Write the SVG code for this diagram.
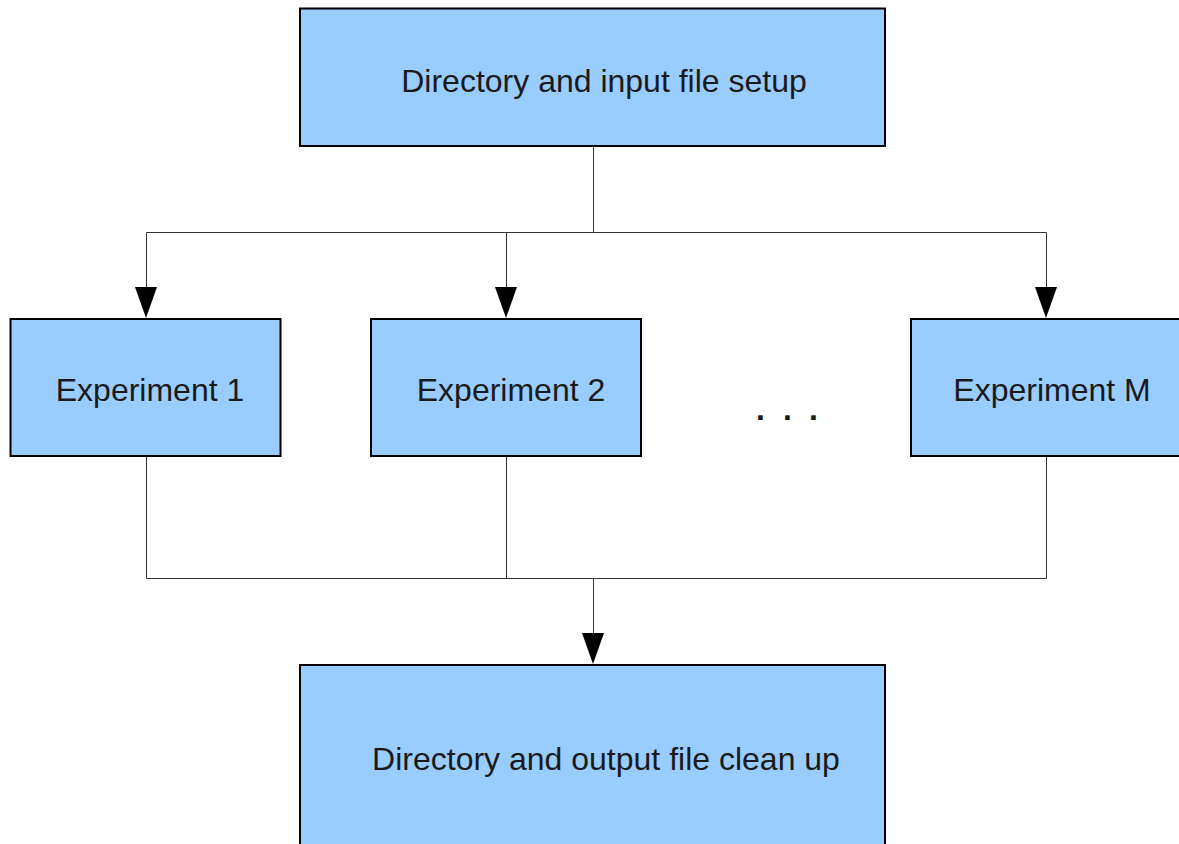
<svg xmlns="http://www.w3.org/2000/svg" width="1179" height="844" viewBox="0 0 1179 844">
<defs>
<style>
.box{fill:#99ccff;stroke:#000;stroke-width:2}
.lbl{font-family:"Liberation Sans",Arial,sans-serif;font-size:32px;fill:#1a1a1a}
.c{fill:none;stroke:#333;stroke-width:1}
</style>
</defs>
<rect width="1179" height="844" fill="#fff"/>
<g id="connectors">
<path class="c" d="M593.5,147 V232.5 M146.5,232.5 H1046.5"/>
<path class="c" d="M146.5,232.5 V287"/>
<path d="M135,287 L157,287 L146,318 Z" fill="#000"/>
<path class="c" d="M506.5,232.5 V287"/>
<path d="M495,287 L517,287 L506,318 Z" fill="#000"/>
<path class="c" d="M1046.5,232.5 V287"/>
<path d="M1035,287 L1057,287 L1046,318 Z" fill="#000"/>
<path class="c" d="M146.5,457 V578.5 H1046.5 V457 M506.5,457 V578.5"/>
<path class="c" d="M593.5,578.5 V633"/>
<path d="M582,633 L604,633 L593,664 Z" fill="#000"/>
</g>
<g id="setup">
<rect class="box" x="300" y="8.5" width="585" height="137.5"/>
<text class="lbl" x="604" y="92" text-anchor="middle">Directory and input file setup</text>
</g>
<g id="exp1">
<rect class="box" x="10.5" y="319" width="270" height="137"/>
<text class="lbl" x="150" y="401" text-anchor="middle">Experiment 1</text>
</g>
<g id="exp2">
<rect class="box" x="371" y="319" width="270" height="137"/>
<text class="lbl" x="511" y="401" text-anchor="middle">Experiment 2</text>
</g>
<g id="dots">
<text class="lbl" x="756 783 809" y="420" font-weight="bold">...</text>
</g>
<g id="expM">
<rect class="box" x="911" y="319" width="272" height="137"/>
<text class="lbl" x="1052" y="401" text-anchor="middle">Experiment M</text>
</g>
<g id="cleanup">
<rect class="box" x="300" y="665" width="585" height="185"/>
<text class="lbl" x="606" y="770" text-anchor="middle">Directory and output file clean up</text>
</g>
</svg>
